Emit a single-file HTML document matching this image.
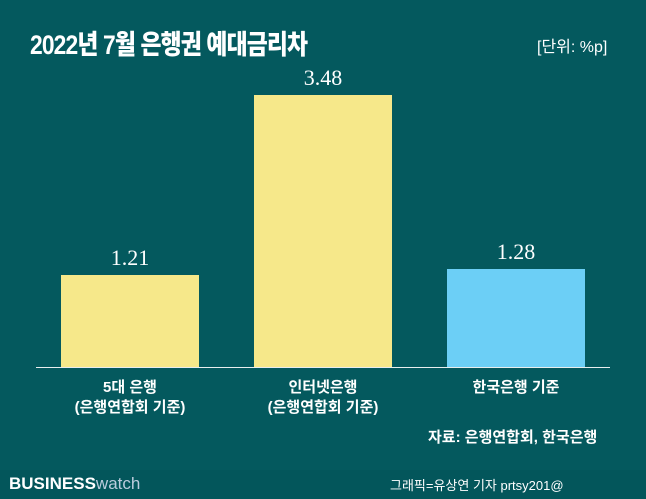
<!DOCTYPE html>
<html><head><meta charset="utf-8"><style>
body{margin:0;width:646px;height:499px;background:#04595e;position:relative;overflow:hidden;font-family:"Liberation Sans","Noto Sans CJK KR",sans-serif;color:#fff}
.a{position:absolute}
.bar{position:absolute;width:138px}
.v{position:absolute;width:138px;text-align:center;font-family:"Liberation Serif",serif;font-size:22px;color:#fff}
.l{position:absolute;width:200px;text-align:center;font-size:15px;line-height:20px;font-weight:bold}
</style></head><body>
<div class="a" style="left:30px;top:23px;font-size:27px;font-weight:900;letter-spacing:-1px;transform:scaleX(0.845);transform-origin:left;white-space:nowrap">2022년 7월 은행권 예대금리차</div>
<div class="a" style="left:537px;top:33px;font-size:16px">[단위: %p]</div>
<div class="bar" style="left:61px;top:275px;height:92px;background:#f6e88a"></div>
<div class="bar" style="left:254px;top:95px;height:272px;background:#f6e88a"></div>
<div class="bar" style="left:447px;top:269px;height:98px;background:#6ccff6"></div>
<div class="v" style="left:61px;top:245px">1.21</div>
<div class="v" style="left:254px;top:65px">3.48</div>
<div class="v" style="left:447px;top:239px">1.28</div>
<div class="a" style="left:36px;top:367px;width:574px;height:1px;background:#e8eeee"></div>
<div class="l" style="left:30px;top:378px">5대 은행<br>(은행연합회 기준)</div>
<div class="l" style="left:223px;top:378px">인터넷은행<br>(은행연합회 기준)</div>
<div class="l" style="left:416px;top:378px">한국은행 기준</div>
<div class="a" style="left:428px;top:426px;font-size:15px;font-weight:bold">자료: 은행연합회, 한국은행</div>
<div class="a" style="left:0;top:470px;width:646px;height:29px;background:#03565b"></div>
<div class="a" style="left:9px;top:474px;font-size:17px"><b style="font-weight:900">BUSINESS</b><span style="color:#bcd;font-weight:300">watch</span></div>
<div class="a" style="left:390px;top:475px;font-size:13px">그래픽=유상연 기자 prtsy201@</div>
</body></html>
